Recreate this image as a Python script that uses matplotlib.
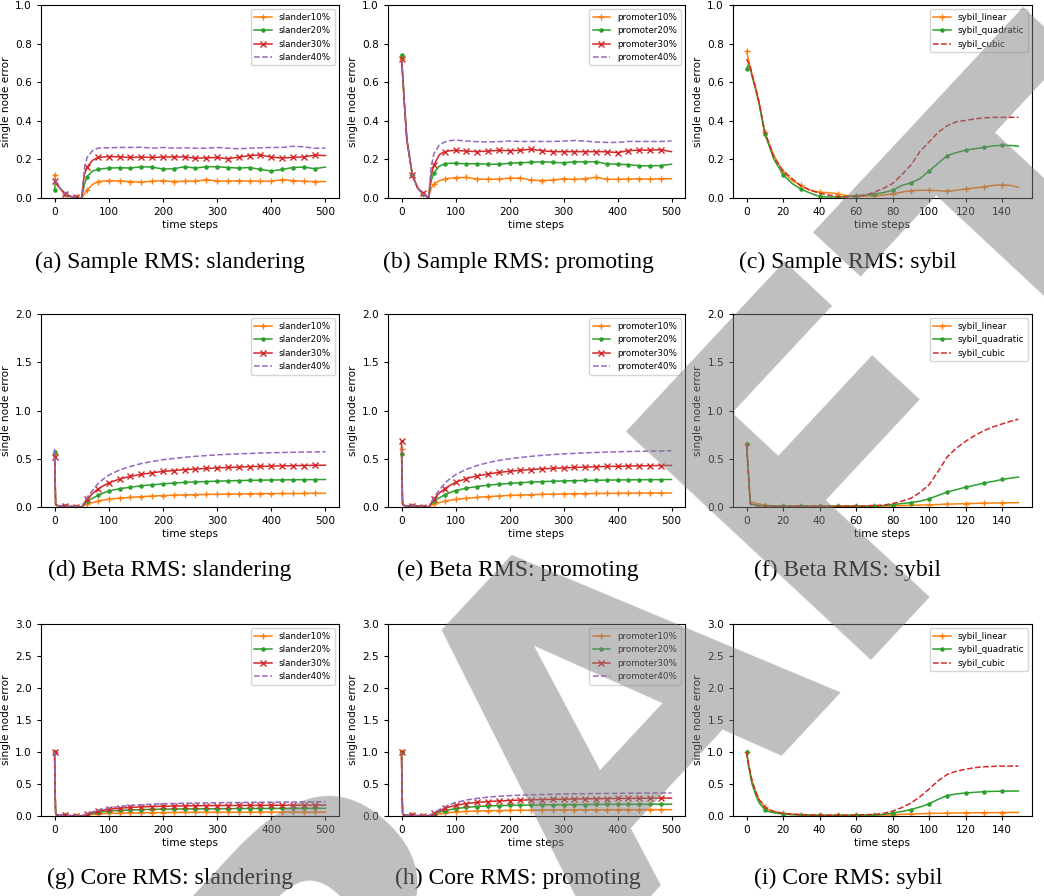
import matplotlib
matplotlib.use("Agg")
import matplotlib.pyplot as plt

# time grid used by the slander / promoter runs (dense near the start)
X_LONG = [0, 1, 2, 3, 5, 10, 20, 30, 40, 50, 55, 60, 70, 80, 90, 100,
          120, 140, 160, 180, 200, 220, 240, 260, 280, 300, 320, 340,
          360, 380, 400, 420, 440, 460, 480, 500]
# time grid used by the sybil runs
X_SYB = [0, 1, 2, 3, 5, 7, 10, 12, 15, 20, 25, 30, 35, 40, 45, 50, 55,
         60, 65, 70, 75, 80, 85, 90, 95, 100, 105, 110, 115, 120, 125,
         130, 135, 140, 145, 149]

# (a) Sample RMS: slandering
sample_slander10 = [0.12, 0.10, 0.09, 0.08, 0.065, 0.05, 0.02, 0.006, 0.004, 0.0, 0.02, 0.04, 0.07, 0.085, 0.088, 0.09,
                    0.088, 0.085, 0.082, 0.087, 0.09, 0.085, 0.087, 0.087, 0.095, 0.088, 0.087, 0.09, 0.087, 0.087,
                    0.087, 0.095, 0.09, 0.087, 0.085, 0.085]
sample_slander20 = [0.04, 0.07, 0.08, 0.08, 0.07, 0.05, 0.02, 0.006, 0.003, 0.0, 0.07, 0.11, 0.14, 0.148, 0.152, 0.155,
                    0.157, 0.155, 0.162, 0.16, 0.15, 0.152, 0.162, 0.155, 0.162, 0.162, 0.158, 0.155, 0.158, 0.148,
                    0.14, 0.148, 0.158, 0.16, 0.152, 0.16]
sample_slander30 = [0.09, 0.09, 0.085, 0.08, 0.07, 0.05, 0.02, 0.008, 0.005, 0.0, 0.12, 0.16, 0.195, 0.21, 0.212, 0.215,
                    0.213, 0.21, 0.212, 0.21, 0.212, 0.213, 0.213, 0.206, 0.208, 0.21, 0.203, 0.212, 0.22, 0.223,
                    0.212, 0.207, 0.21, 0.213, 0.222, 0.22]
sample_slander40 = [0.10, 0.095, 0.09, 0.085, 0.075, 0.05, 0.02, 0.008, 0.005, 0.0, 0.15, 0.21, 0.245, 0.258, 0.26, 0.26,
                    0.262, 0.262, 0.263, 0.258, 0.262, 0.258, 0.26, 0.258, 0.258, 0.262, 0.258, 0.255, 0.258, 0.26,
                    0.262, 0.262, 0.268, 0.265, 0.258, 0.258]

# (b) Sample RMS: promoting
sample_promoter10 = [0.72, 0.68, 0.64, 0.60, 0.50, 0.30, 0.12, 0.055, 0.02, 0.002, 0.05, 0.07, 0.09, 0.098, 0.103, 0.105,
                     0.107, 0.098, 0.097, 0.098, 0.103, 0.103, 0.093, 0.09, 0.093, 0.10, 0.096, 0.10, 0.107, 0.097,
                     0.097, 0.098, 0.10, 0.098, 0.10, 0.10]
sample_promoter20 = [0.74, 0.69, 0.65, 0.61, 0.51, 0.30, 0.12, 0.05, 0.02, 0.002, 0.09, 0.13, 0.165, 0.177, 0.18, 0.18,
                     0.177, 0.178, 0.175, 0.175, 0.18, 0.183, 0.185, 0.188, 0.185, 0.182, 0.188, 0.187, 0.188, 0.177,
                     0.175, 0.173, 0.167, 0.167, 0.168, 0.175]
sample_promoter30 = [0.72, 0.68, 0.64, 0.60, 0.50, 0.30, 0.12, 0.05, 0.025, 0.002, 0.12, 0.17, 0.225, 0.24, 0.245, 0.247,
                     0.243, 0.24, 0.243, 0.247, 0.245, 0.247, 0.253, 0.245, 0.24, 0.24, 0.24, 0.24, 0.24, 0.24,
                     0.235, 0.245, 0.248, 0.248, 0.25, 0.24]
sample_promoter40 = [0.72, 0.68, 0.64, 0.60, 0.50, 0.30, 0.12, 0.05, 0.02, 0.002, 0.16, 0.23, 0.275, 0.29, 0.297, 0.30,
                     0.295, 0.292, 0.29, 0.292, 0.295, 0.293, 0.293, 0.293, 0.293, 0.295, 0.298, 0.295, 0.29, 0.288,
                     0.288, 0.293, 0.293, 0.293, 0.293, 0.295]

# (c) Sample RMS: sybil
sample_linear = [0.76, 0.72, 0.68, 0.64, 0.57, 0.49, 0.34, 0.29, 0.22,
                 0.135, 0.09, 0.065, 0.04, 0.03, 0.027, 0.022, 0.012, 0.008, 0.01,
                 0.012, 0.015, 0.022, 0.03, 0.038, 0.04, 0.04, 0.038, 0.035, 0.04,
                 0.047, 0.052, 0.058, 0.065, 0.068, 0.065, 0.055]
sample_quadratic = [0.67, 0.69, 0.67, 0.63, 0.56, 0.48, 0.33, 0.28, 0.20,
                    0.12, 0.075, 0.045, 0.025, 0.008, 0.005, 0.005, 0.008, 0.012, 0.015,
                    0.02, 0.028, 0.04, 0.065, 0.078, 0.10, 0.14, 0.18, 0.22, 0.235,
                    0.248, 0.255, 0.262, 0.27, 0.273, 0.272, 0.268]
sample_cubic = [0.72, 0.70, 0.68, 0.64, 0.57, 0.49, 0.34, 0.29, 0.21,
                0.14, 0.10, 0.06, 0.04, 0.025, 0.015, 0.008, 0.005, 0.008, 0.015,
                0.03, 0.05, 0.075, 0.12, 0.17, 0.24, 0.29, 0.34, 0.375, 0.395,
                0.402, 0.41, 0.415, 0.418, 0.418, 0.418, 0.418]

# (d) Beta RMS: slandering
beta_slander10 = [0.55, 0.30, 0.03, 0.02, 0.015, 0.01, 0.01, 0.005, 0.005, 0.0, 0.015, 0.03, 0.045, 0.06, 0.072, 0.08,
                  0.092, 0.10, 0.108, 0.113, 0.118, 0.122, 0.126, 0.128, 0.13, 0.132, 0.134, 0.135, 0.137, 0.138,
                  0.139, 0.14, 0.14, 0.141, 0.142, 0.142]
beta_slander20 = [0.57, 0.30, 0.03, 0.02, 0.015, 0.01, 0.01, 0.005, 0.005, 0.0, 0.03, 0.06, 0.09, 0.12, 0.145, 0.165,
                  0.19, 0.205, 0.22, 0.23, 0.24, 0.248, 0.255, 0.26, 0.264, 0.268, 0.271, 0.274, 0.276, 0.278,
                  0.28, 0.281, 0.282, 0.283, 0.284, 0.285]
beta_slander30 = [0.52, 0.30, 0.03, 0.02, 0.015, 0.01, 0.01, 0.005, 0.005, 0.0, 0.04, 0.08, 0.14, 0.185, 0.22, 0.25,
                  0.29, 0.318, 0.338, 0.355, 0.368, 0.378, 0.387, 0.394, 0.40, 0.405, 0.41, 0.414, 0.418, 0.421,
                  0.424, 0.426, 0.428, 0.43, 0.432, 0.433]
beta_slander40 = [0.60, 0.30, 0.04, 0.03, 0.02, 0.01, 0.01, 0.005, 0.005, 0.0, 0.05, 0.10, 0.17, 0.24, 0.29, 0.33,
                  0.385, 0.42, 0.45, 0.472, 0.49, 0.503, 0.515, 0.525, 0.533, 0.54, 0.546, 0.551, 0.555, 0.559,
                  0.562, 0.565, 0.567, 0.569, 0.571, 0.573]

# (e) Beta RMS: promoting
beta_promoter10 = [0.60, 0.30, 0.03, 0.02, 0.015, 0.01, 0.01, 0.005, 0.005, 0.0, 0.015, 0.03, 0.045, 0.06, 0.07, 0.078,
                   0.09, 0.10, 0.108, 0.114, 0.12, 0.124, 0.128, 0.131, 0.133, 0.135, 0.137, 0.139, 0.14, 0.141,
                   0.142, 0.143, 0.144, 0.145, 0.145, 0.146]
beta_promoter20 = [0.55, 0.30, 0.03, 0.02, 0.015, 0.01, 0.015, 0.01, 0.005, 0.0, 0.03, 0.06, 0.095, 0.125, 0.15, 0.17,
                   0.195, 0.212, 0.226, 0.236, 0.245, 0.252, 0.258, 0.263, 0.267, 0.27, 0.273, 0.275, 0.277, 0.279,
                   0.28, 0.281, 0.282, 0.283, 0.284, 0.285]
beta_promoter30 = [0.68, 0.30, 0.03, 0.02, 0.015, 0.01, 0.015, 0.01, 0.005, 0.0, 0.04, 0.085, 0.145, 0.19, 0.225, 0.255,
                   0.295, 0.322, 0.342, 0.358, 0.37, 0.38, 0.388, 0.395, 0.40, 0.405, 0.41, 0.414, 0.417, 0.42,
                   0.422, 0.424, 0.426, 0.428, 0.43, 0.431]
beta_promoter40 = [0.62, 0.30, 0.04, 0.03, 0.02, 0.01, 0.015, 0.01, 0.005, 0.0, 0.05, 0.10, 0.175, 0.245, 0.295, 0.335,
                   0.39, 0.43, 0.46, 0.482, 0.50, 0.513, 0.525, 0.535, 0.543, 0.55, 0.556, 0.561, 0.565, 0.569,
                   0.572, 0.575, 0.577, 0.579, 0.581, 0.583]

# (f) Beta RMS: sybil
beta_linear = [0.65, 0.35, 0.06, 0.05, 0.04, 0.03, 0.02, 0.015, 0.01,
               0.01, 0.008, 0.008, 0.008, 0.008, 0.008, 0.008, 0.008, 0.008, 0.008,
               0.008, 0.01, 0.012, 0.015, 0.018, 0.02, 0.022, 0.026, 0.03, 0.032,
               0.035, 0.037, 0.04, 0.041, 0.043, 0.044, 0.045]
beta_quadratic = [0.65, 0.35, 0.04, 0.03, 0.02, 0.015, 0.01, 0.01, 0.01,
                  0.008, 0.008, 0.008, 0.008, 0.008, 0.008, 0.008, 0.008, 0.008, 0.008,
                  0.01, 0.015, 0.025, 0.035, 0.045, 0.06, 0.085, 0.12, 0.155, 0.18,
                  0.205, 0.225, 0.248, 0.265, 0.285, 0.30, 0.31]
beta_cubic = [0.65, 0.35, 0.03, 0.02, 0.015, 0.01, 0.01, 0.01, 0.008,
              0.008, 0.008, 0.008, 0.008, 0.008, 0.008, 0.008, 0.008, 0.01, 0.012,
              0.015, 0.02, 0.035, 0.06, 0.09, 0.15, 0.23, 0.37, 0.52, 0.61,
              0.68, 0.74, 0.79, 0.83, 0.86, 0.89, 0.91]

# (g) Core RMS: slandering
core_slander10 = [1.0, 0.40, 0.05, 0.02, 0.015, 0.01, 0.01, 0.005, 0.005, 0.003, 0.008, 0.015, 0.025, 0.032, 0.037, 0.04,
                  0.045, 0.048, 0.05, 0.052, 0.054, 0.055, 0.056, 0.057, 0.058, 0.058, 0.059, 0.059, 0.059, 0.06,
                  0.06, 0.06, 0.06, 0.06, 0.06, 0.06]
core_slander20 = [1.0, 0.40, 0.05, 0.02, 0.015, 0.01, 0.01, 0.005, 0.005, 0.003, 0.01, 0.02, 0.04, 0.055, 0.068, 0.078,
                  0.088, 0.095, 0.10, 0.104, 0.107, 0.109, 0.111, 0.112, 0.113, 0.114, 0.115, 0.116, 0.117, 0.117,
                  0.118, 0.118, 0.119, 0.119, 0.12, 0.12]
core_slander30 = [1.0, 0.40, 0.05, 0.02, 0.015, 0.01, 0.01, 0.005, 0.005, 0.003, 0.015, 0.03, 0.055, 0.075, 0.09, 0.105,
                  0.122, 0.133, 0.142, 0.148, 0.152, 0.155, 0.158, 0.16, 0.162, 0.163, 0.164, 0.165, 0.166, 0.167,
                  0.168, 0.168, 0.169, 0.169, 0.17, 0.17]
core_slander40 = [1.0, 0.40, 0.05, 0.02, 0.015, 0.01, 0.01, 0.005, 0.005, 0.003, 0.018, 0.035, 0.065, 0.09, 0.11, 0.125,
                  0.148, 0.163, 0.175, 0.184, 0.19, 0.195, 0.199, 0.202, 0.205, 0.207, 0.209, 0.211, 0.213, 0.215,
                  0.216, 0.218, 0.219, 0.22, 0.221, 0.222]

# (h) Core RMS: promoting
core_promoter10 = [1.0, 0.40, 0.05, 0.02, 0.015, 0.01, 0.01, 0.005, 0.005, 0.003, 0.008, 0.015, 0.03, 0.045, 0.055, 0.062,
                   0.072, 0.078, 0.082, 0.085, 0.088, 0.09, 0.091, 0.093, 0.094, 0.095, 0.096, 0.097, 0.097, 0.098,
                   0.098, 0.099, 0.099, 0.10, 0.10, 0.10]
core_promoter20 = [1.0, 0.40, 0.05, 0.02, 0.015, 0.01, 0.01, 0.005, 0.005, 0.003, 0.015, 0.03, 0.06, 0.085, 0.10, 0.115,
                   0.135, 0.148, 0.156, 0.162, 0.166, 0.169, 0.172, 0.174, 0.176, 0.177, 0.178, 0.179, 0.18, 0.181,
                   0.182, 0.183, 0.183, 0.184, 0.184, 0.185]
core_promoter30 = [1.0, 0.40, 0.05, 0.02, 0.015, 0.01, 0.01, 0.005, 0.005, 0.003, 0.02, 0.04, 0.08, 0.12, 0.145, 0.165,
                   0.195, 0.212, 0.225, 0.235, 0.242, 0.248, 0.253, 0.257, 0.26, 0.263, 0.266, 0.268, 0.27, 0.272,
                   0.274, 0.275, 0.277, 0.278, 0.279, 0.28]
core_promoter40 = [1.0, 0.40, 0.05, 0.02, 0.015, 0.01, 0.01, 0.005, 0.005, 0.003, 0.025, 0.05, 0.10, 0.145, 0.18, 0.21,
                   0.25, 0.275, 0.295, 0.308, 0.318, 0.325, 0.331, 0.336, 0.34, 0.343, 0.346, 0.349, 0.351, 0.353,
                   0.355, 0.356, 0.357, 0.358, 0.359, 0.36]

# (i) Core RMS: sybil
core_linear = [1.0, 0.82, 0.68, 0.55, 0.38, 0.25, 0.14, 0.10, 0.07,
               0.04, 0.03, 0.02, 0.015, 0.012, 0.012, 0.012, 0.012, 0.012, 0.012,
               0.012, 0.015, 0.02, 0.025, 0.03, 0.035, 0.04, 0.042, 0.045, 0.048,
               0.05, 0.051, 0.052, 0.053, 0.054, 0.055, 0.055]
core_quadratic = [1.0, 0.80, 0.64, 0.50, 0.33, 0.20, 0.10, 0.07, 0.05,
                  0.03, 0.02, 0.015, 0.012, 0.01, 0.01, 0.01, 0.01, 0.012, 0.013,
                  0.015, 0.025, 0.045, 0.07, 0.10, 0.14, 0.19, 0.26, 0.32, 0.345,
                  0.36, 0.37, 0.38, 0.385, 0.388, 0.39, 0.39]
core_cubic = [1.0, 0.82, 0.68, 0.55, 0.38, 0.25, 0.14, 0.10, 0.07,
              0.04, 0.03, 0.02, 0.015, 0.012, 0.012, 0.012, 0.012, 0.015, 0.02,
              0.025, 0.04, 0.075, 0.13, 0.20, 0.30, 0.42, 0.55, 0.65, 0.70,
              0.73, 0.755, 0.77, 0.775, 0.78, 0.78, 0.78]

CAPTIONS = ["(a) Sample RMS: slandering", "(b) Sample RMS: promoting", "(c) Sample RMS: sybil",
            "(d) Beta RMS: slandering", "(e) Beta RMS: promoting", "(f) Beta RMS: sybil",
            "(g) Core RMS: slandering", "(h) Core RMS: promoting", "(i) Core RMS: sybil"]
PCTS = ["10%", "20%", "30%", "40%"]
SYBIL_NAMES = ["sybil_linear", "sybil_quadratic", "sybil_cubic"]
YTICKS = [[0.0, 0.2, 0.4, 0.6, 0.8, 1.0],
          [0.0, 0.5, 1.0, 1.5, 2.0],
          [0.0, 0.5, 1.0, 1.5, 2.0, 2.5, 3.0]]

panels = [
    ("slander", [sample_slander10, sample_slander20, sample_slander30, sample_slander40]),
    ("promoter", [sample_promoter10, sample_promoter20, sample_promoter30, sample_promoter40]),
    ("sybil", [sample_linear, sample_quadratic, sample_cubic]),
    ("slander", [beta_slander10, beta_slander20, beta_slander30, beta_slander40]),
    ("promoter", [beta_promoter10, beta_promoter20, beta_promoter30, beta_promoter40]),
    ("sybil", [beta_linear, beta_quadratic, beta_cubic]),
    ("slander", [core_slander10, core_slander20, core_slander30, core_slander40]),
    ("promoter", [core_promoter10, core_promoter20, core_promoter30, core_promoter40]),
    ("sybil", [core_linear, core_quadratic, core_cubic]),
]

styles_attack = [dict(color="C1", marker="+"), dict(color="C2", marker="."),
                 dict(color="C3", marker="x"), dict(color="C4", linestyle="--")]
styles_sybil = [dict(color="C1", marker="+"), dict(color="C2", marker="."),
                dict(color="C3", linestyle="--")]

mark_long = [i for i, x in enumerate(X_LONG) if x % 20 == 0 and x < 500]
mark_syb = [i for i, x in enumerate(X_SYB) if x % 10 == 0]

W, H = 1044, 896
fig = plt.figure(figsize=(W / 100, H / 100), dpi=100)

col_px = [(41, 339), (388, 685), (733, 1032)]
row_px = [(5, 198), (314, 507), (624, 816)]
cap_x = [170, 518, 848]
cap_y = [262, 570, 878]

FS = 7.6
for k, (kind, series) in enumerate(panels):
    r, c = divmod(k, 3)
    x0, x1 = col_px[c]
    y0, y1 = row_px[r]
    ax = fig.add_axes([x0 / W, 1 - y1 / H, (x1 - x0) / W, (y1 - y0) / H])
    if kind == "sybil":
        for ys, st, name in zip(series, styles_sybil, SYBIL_NAMES):
            ax.plot(X_SYB, ys, label=name, lw=1.1, ms=4.5, markevery=mark_syb, **st)
        ax.set_xticks(range(0, 141, 20))
    else:
        for ys, st, p in zip(series, styles_attack, PCTS):
            ax.plot(X_LONG, ys, label=kind + p, lw=1.1, ms=4.5, markevery=mark_long, **st)
        ax.set_xticks(range(0, 501, 100))
    ax.set_yticks(YTICKS[r])
    ax.set_ylim(0, YTICKS[r][-1])
    ax.tick_params(labelsize=FS, length=3)
    ax.set_xlabel("time steps", fontsize=FS, labelpad=2)
    ax.set_ylabel("single node error", fontsize=FS, labelpad=3)
    ax.legend(loc="upper right", fontsize=6.3)
    fig.text(cap_x[c] / W, 1 - cap_y[r] / H, CAPTIONS[k], fontsize=17,
             family="Liberation Serif", ha="center", va="center")

# draft watermark over the whole figure
fig.text(672 / W, 1 - 828 / H, "DRAFT", fontsize=330, weight="bold",
         color="#808080", alpha=0.5, rotation=47, rotation_mode="anchor",
         ha="center", va="baseline", zorder=100)

fig.savefig("out.png", dpi=100)
